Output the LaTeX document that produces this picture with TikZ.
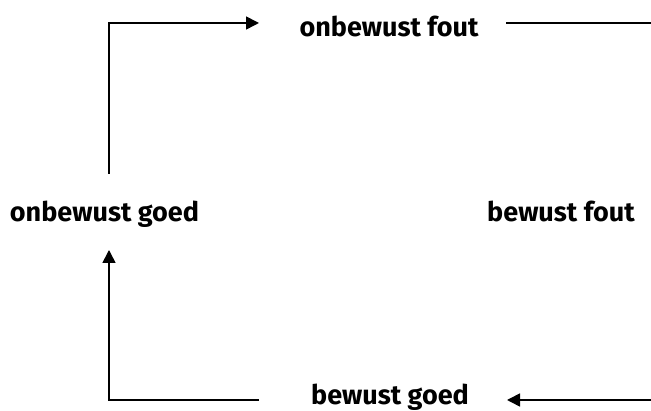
\documentclass[tikz,border=0pt]{standalone}
\usepackage{fontspec}
\setmainfont{Fira Sans}
\usetikzlibrary{arrows.meta}
\begin{document}
\begin{tikzpicture}[x=1pt,y=1pt,
  lbl/.style={font=\bfseries\fontsize{27}{30}\selectfont, inner sep=0pt, anchor=base},
  conn/.style={line width=1.6pt},
  arr/.style={conn, -{Triangle[length=13pt,width=13pt]}}]
\useasboundingbox (0,0) rectangle (651,411);
\fill[white] (0,0) rectangle (651,411);
\node[lbl] (of) at (389,374) {onbewust fout};
\node[lbl] (og) at (104.5,189) {onbewust goed};
\node[lbl] (bf) at (561,189) {bewust fout};
\node[lbl] (bg) at (390,6) {bewust goed};
\coordinate (c1) at (109,237);
\coordinate (c2) at (109,388);
\coordinate (t1) at (259,388);
\coordinate (t2) at (506,388);
\coordinate (tr) at (651,388);
\coordinate (br) at (651,11);
\coordinate (b1) at (507,11);
\coordinate (b2) at (259,11);
\coordinate (bl) at (109,11);
\coordinate (up) at (109,161);
\draw[arr] (c1) -- (c2) -- (t1);
\draw[conn] (t2) -- (tr);
\draw[arr] (br) -- (b1);
\draw[arr] (b2) -- (bl) -- (up);
\end{tikzpicture}
\end{document}
